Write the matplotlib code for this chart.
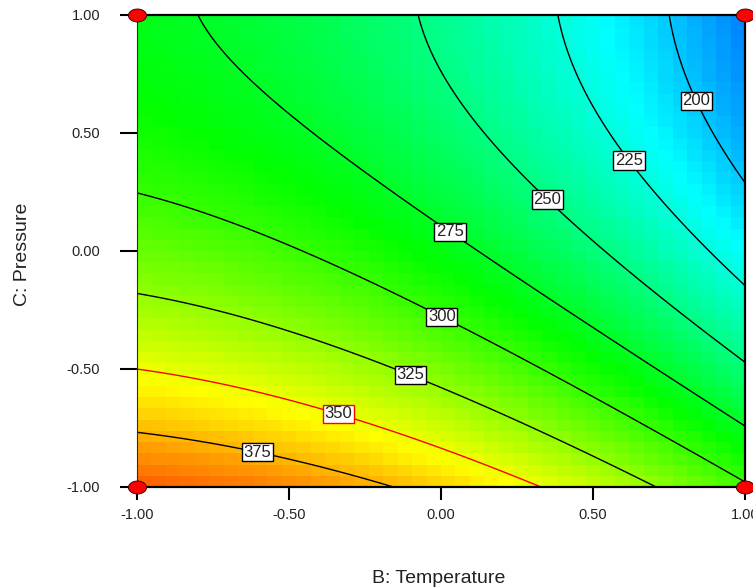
import numpy as np
import matplotlib
matplotlib.use("Agg")
import matplotlib.pyplot as plt
from matplotlib.colors import LinearSegmentedColormap
from matplotlib.path import Path

plt.rcParams['font.family'] = ['Liberation Sans', 'DejaVu Sans']

# Response surface model (coded factors B: Temperature, C: Pressure)
coef_names = ["Intercept", "B", "C", "BC", "B2", "C2"]
coef_values = [281.2, -48.9, -60.7, -0.3, -16.8, 25.9]

contour_levels = [200, 225, 250, 275, 300, 325, 350, 375]
contour_colors = ['black', 'black', 'black', 'black', 'black', 'black', 'red', 'black']
label_positions = [(0.845, 0.64), (0.622, 0.386), (0.352, 0.22), (0.03, 0.081),
                   (0.007, -0.267), (-0.095, -0.504), (-0.332, -0.665), (-0.599, -0.822)]

design_B = [-1.0, -1.0, 1.0, 1.0]
design_C = [-1.0, 1.0, -1.0, 1.0]

tick_values = [-1.0, -0.5, 0.0, 0.5, 1.0]
tick_labels = ["-1.00", "-0.50", "0.00", "0.50", "1.00"]

color_low, color_high = 145, 425


def model(B, C):
    b0, bB, bC, bBC, bBB, bCC = coef_values
    return b0 + bB * B + bC * C + bBC * B * C + bBB * B ** 2 + bCC * C ** 2


fig = plt.figure(figsize=(7.53, 5.88), dpi=100)
ax = fig.add_axes([137 / 753, 1 - 487 / 588, 608 / 753, 472 / 588])

cmap = LinearSegmentedColormap.from_list(
    "dx", ['#0000ff', '#00ffff', '#00ff00', '#ffff00', '#ff0000'])

# coloured cells
n_cells = 42
edges = np.linspace(-1, 1, n_cells + 1)
centers = 0.5 * (edges[:-1] + edges[1:])
CB, CC = np.meshgrid(centers, centers)
ax.pcolormesh(edges, edges, model(CB, CC), cmap=cmap, vmin=color_low, vmax=color_high,
              shading='flat', antialiased=False, rasterized=True)

# contours
g = np.linspace(-1, 1, 301)
GB, GC = np.meshgrid(g, g)
cs = ax.contour(GB, GC, model(GB, GC), levels=contour_levels, colors=contour_colors,
                linewidths=1.0)
texts = ax.clabel(cs, inline=False, fmt='%d', fontsize=12, manual=label_positions)
for t in texts:
    t.set_rotation(0)
    lvl = int(t.get_text())
    ec = 'red' if lvl == 350 else 'black'
    t.set_color('#222222')
    t.set_bbox(dict(boxstyle='square,pad=0.1', facecolor='white', edgecolor=ec, linewidth=1.0))
    t.set_zorder(5)

# design points
theta = np.linspace(0, 2 * np.pi, 60)
ell = Path(np.column_stack([1.4 * np.cos(theta), np.sin(theta)]), closed=True)
ax.plot(design_B, design_C, linestyle='none', marker=ell, markersize=13,
        markerfacecolor='red', markeredgecolor='#440000', markeredgewidth=0.7,
        clip_on=False, zorder=10)

ax.set_xlim(-1, 1)
ax.set_ylim(-1, 1)
ax.set_xticks(tick_values)
ax.set_xticklabels(tick_labels)
ax.set_yticks(tick_values)
ax.set_yticklabels(tick_labels)
ax.tick_params(axis='x', length=9, width=1.5, pad=6, labelsize=10.5, colors='black')
ax.tick_params(axis='y', length=12.5, width=1.5, pad=14, labelsize=10.5, colors='black')
for lab in ax.get_xticklabels() + ax.get_yticklabels():
    lab.set_color('#222222')

for side in ['top', 'right', 'bottom']:
    ax.spines[side].set_linewidth(1.6)
    ax.spines[side].set_color('black')
ax.spines['left'].set_linewidth(0.8)
ax.spines['left'].set_color('#333300')
for s in ax.spines.values():
    s.set_zorder(6)

fig.text(439 / 753, 1 - 570 / 588, "B: Temperature", ha='center', va='top', fontsize=14,
         color='#222222')
fig.text(23 / 753, 1 - 254 / 588, "C: Pressure", ha='center', va='center', rotation=90,
         fontsize=14, color='#222222')

fig.savefig("out.png", dpi=100)
